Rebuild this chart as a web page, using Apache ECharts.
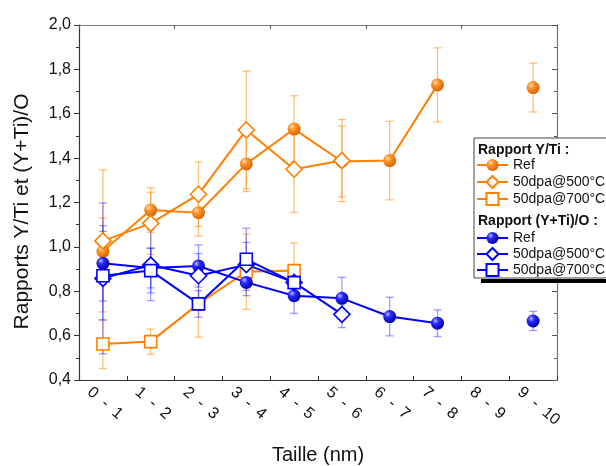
<!DOCTYPE html>
<html>
<head>
<meta charset="utf-8">
<script src="https://cdn.jsdelivr.net/npm/echarts@6/dist/echarts.min.js"></script>
<style>
html,body{margin:0;padding:0;background:#fff;}
#c{width:606px;height:466px;}
</style>
</head>
<body>
<div id="c"></div>
<script>
const categories = ['0  -  1','1  -  2','2  -  3','3  -  4','4  -  5','5  -  6','6  -  7','7  -  8','8  -  9','9  -  10'];
const yTicks = [0.4,0.6,0.8,1.0,1.2,1.4,1.6,1.8,2.0];

// Rapport Y/Ti
const ytiRef    = [0.98, 1.166, 1.154, 1.374, 1.531, 1.385, 1.389, 1.73, null, 1.718];
const ytiRefErr = [0.15, 0.10, 0.105, 0.125, 0.15, 0.16, 0.177, 0.167, null, 0.11];
const yti500    = [1.027, 1.106, 1.237, 1.527, 1.35, 1.389];
const yti500Err = [0.32, 0.14, 0.145, 0.265, 0.195, 0.185];
const yti700    = [0.562, 0.573, 0.743, 0.888, 0.893];
const yti700Err = [0.11, 0.057, 0.15, 0.17, 0.125];

// Rapport (Y+Ti)/O
const ytoRef    = [0.926, 0.905, 0.914, 0.84, 0.78, 0.768, 0.686, 0.656, null, 0.666];
const ytoRefErr = [0.17, 0.09, 0.095, 0.06, 0.08, 0.095, 0.087, 0.06, null, 0.043];
const yto500    = [0.858, 0.918, 0.87, 0.92, 0.84, 0.696];
const yto500Err = [0.34, 0.16, 0.10, 0.10, 0.08, 0.06];
const yto700    = [0.87, 0.893, 0.743, 0.944, 0.839];
const yto700Err = [0.2, 0.10, 0.06, 0.14, 0.08];

const ORANGE = '#FF7F00';
const BLUE = '#0000FF';
const FONT = 'Liberation Sans, Arial, sans-serif';

const chart = echarts.init(document.getElementById('c'), null, {renderer:'canvas'});

function errData(vals, errs){
  const out = [];
  vals.forEach((v,i)=>{ if(v!=null && errs[i]!=null) out.push([i, v-errs[i], v+errs[i]]); });
  return out;
}
function errSeries(vals, errs, color){
  return {
    type:'custom', z:1, silent:true,
    encode:{x:0, y:[1,2]},
    data: errData(vals, errs),
    renderItem: function(params, api){
      const x = api.value(0);
      const top = api.coord([x, api.value(2)]);
      const bot = api.coord([x, api.value(1)]);
      const w = 4;
      const style = {stroke: color, lineWidth: 1.3, fill: null};
      return {type:'group', children:[
        {type:'line', shape:{x1:top[0], y1:top[1], x2:bot[0], y2:bot[1]}, style},
        {type:'line', shape:{x1:top[0]-w, y1:top[1], x2:top[0]+w, y2:top[1]}, style},
        {type:'line', shape:{x1:bot[0]-w, y1:bot[1], x2:bot[0]+w, y2:bot[1]}, style}
      ]};
    }
  };
}
function sphere(light, mid, dark){
  return new echarts.graphic.RadialGradient(0.35, 0.32, 0.7, [
    {offset:0, color:light},{offset:0.35, color:mid},{offset:1, color:dark}
  ]);
}
function lineSeries(name, vals, color, symbol, size, filled, fill){
  return {
    name, type:'line', z:3, data: vals, connectNulls:false,
    symbol, symbolSize:size, showAllSymbol:true,
    lineStyle:{color, width:2},
    itemStyle: filled ? {color: fill, borderColor: color, borderWidth:0} : {color:'#fff', borderColor: color, borderWidth:1.6},
    emphasis:{disabled:true},
    animation:false
  };
}
const orangeSphere = sphere('#FFE0B0', '#FF9428', '#D86400');
const blueSphere = sphere('#B8B8FF', '#2A2AFF', '#0000A8');

const labelMap = {
  'a_ref':'Ref','a_500':'50dpa@500°C','a_700':'50dpa@700°C',
  'b_ref':'Ref','b_500':'50dpa@500°C','b_700':'50dpa@700°C'
};
const legendText = {fontSize:14, color:'#111', fontFamily:FONT};

const option = {
  backgroundColor:'#fff',
  animation:false,
  grid:{left:79, right:49, top:25, bottom:86, containLabel:false, outerBoundsMode:'none'},
  xAxis:[
    {type:'category', data:categories, position:'bottom', boundaryGap:true,
     axisLine:{lineStyle:{color:'#333', width:1.2}},
     axisTick:{show:true, inside:true, length:4, lineStyle:{color:'#333'}},
     axisLabel:{rotate:-40, margin:-6, fontSize:16, color:'#111', fontFamily:FONT,
       align:'left', verticalAlign:'top', padding:[13,0,0,0]},
     name:'Taille (nm)', nameLocation:'middle', nameGap:65,
     nameTextStyle:{fontSize:20, color:'#111', fontFamily:FONT}},
    {type:'category', data:categories, position:'top', boundaryGap:true,
     axisLine:{lineStyle:{color:'#777', width:1.2}},
     axisTick:{show:true, inside:true, length:4, lineStyle:{color:'#555'}},
     axisLabel:{show:false}}
  ],
  yAxis:[
    {type:'value', min:0.4, max:2.0, interval:0.2, position:'left',
     axisLine:{show:true, lineStyle:{color:'#333', width:1.2}},
     axisTick:{show:true, inside:false, length:5, lineStyle:{color:'#333'}},
     minorTick:{show:true, splitNumber:2, length:3, lineStyle:{color:'#333'}},
     splitLine:{show:false},
     axisLabel:{fontSize:16, color:'#111', fontFamily:FONT, margin:8,
       formatter:v=>{ const t = yTicks.find(k=>Math.abs(k-v)<1e-6); return (t!=null?t:v).toFixed(1).replace('.',','); }},
     name:'Rapports Y/Ti et (Y+Ti)/O', nameLocation:'middle', nameGap:46,
     nameTextStyle:{fontSize:21, color:'#111', fontFamily:FONT, padding:[0,18,0,0]}},
    {type:'value', min:0.4, max:2.0, interval:0.2, position:'right',
     axisLine:{show:true, lineStyle:{color:'#777', width:1.2}},
     axisTick:{show:true, inside:true, length:5, lineStyle:{color:'#555'}},
     minorTick:{show:true, splitNumber:2, length:3, lineStyle:{color:'#555'}},
     splitLine:{show:false}, axisLabel:{show:false}}
  ],
  legend:[
    {data:['a_ref','a_500','a_700'], orient:'vertical', left:476, top:158, padding:0,
     itemWidth:31, itemHeight:15, itemGap:3, z:30, selectedMode:false,
     formatter:n=>labelMap[n], textStyle:legendText},
    {data:['b_ref','b_500','b_700'], orient:'vertical', left:476, top:231, padding:0,
     itemWidth:31, itemHeight:15, itemGap:2, z:30, selectedMode:false,
     formatter:n=>labelMap[n], textStyle:legendText}
  ],
  graphic:[
    {type:'rect', z:20, shape:{x:481, y:279, width:130, height:4}, style:{fill:'#000'}},
    {type:'rect', z:21, shape:{x:474, y:138, width:140, height:140}, style:{fill:'#fff', stroke:'#444', lineWidth:1}},
    {type:'text', z:22, x:478, y:143, style:{text:'Rapport Y/Ti :', font:'bold 14px '+FONT, fill:'#111'}},
    {type:'text', z:22, x:478, y:214, style:{text:'Rapport (Y+Ti)/O :', font:'bold 14px '+FONT, fill:'#111'}}
  ],
  series:[
    errSeries(ytiRef, ytiRefErr, 'rgba(255,140,20,0.55)'),
    errSeries(yti500, yti500Err, 'rgba(255,140,20,0.55)'),
    errSeries(yti700, yti700Err, 'rgba(255,140,20,0.55)'),
    errSeries(ytoRef, ytoRefErr, 'rgba(40,40,255,0.45)'),
    errSeries(yto500, yto500Err, 'rgba(40,40,255,0.45)'),
    errSeries(yto700, yto700Err, 'rgba(40,40,255,0.45)'),
    lineSeries('a_ref', ytiRef, ORANGE, 'circle', 13, true, orangeSphere),
    lineSeries('a_500', yti500, ORANGE, 'diamond', 16, false),
    lineSeries('a_700', yti700, ORANGE, 'rect', 12, false),
    lineSeries('b_ref', ytoRef, BLUE, 'circle', 13, true, blueSphere),
    lineSeries('b_500', yto500, BLUE, 'diamond', 16, false),
    lineSeries('b_700', yto700, BLUE, 'rect', 12, false)
  ]
};
chart.setOption(option);
</script>
</body>
</html>
